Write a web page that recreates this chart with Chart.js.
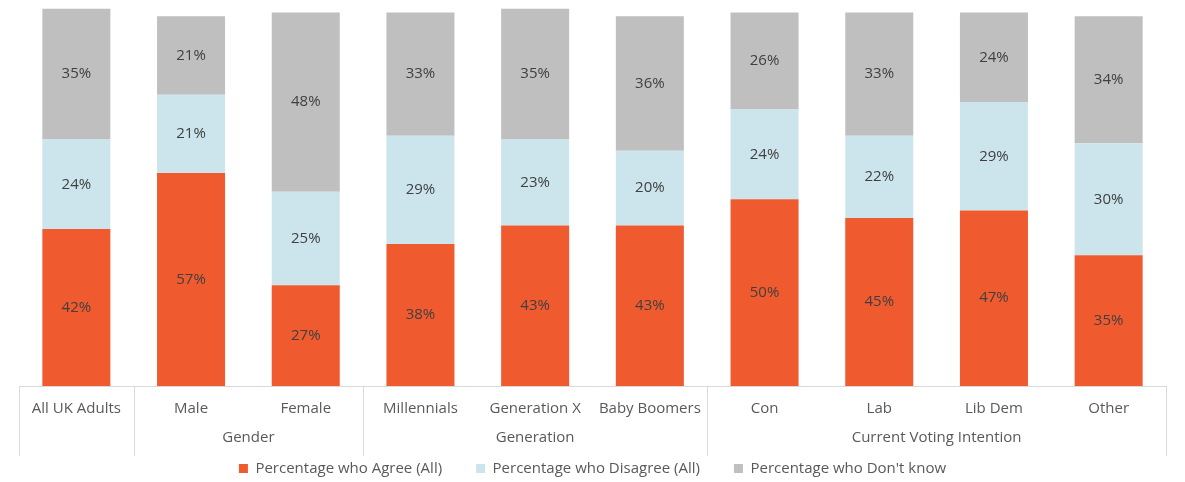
<!DOCTYPE html>
<html>
<head>
<meta charset="utf-8">
<script src="https://cdn.jsdelivr.net/npm/chart.js@4/dist/chart.umd.min.js"></script>
<style>
  html, body { margin: 0; padding: 0; background: #fff; }
  #wrap { width: 1185px; height: 482px; position: relative; }
</style>
</head>
<body>
<div id="wrap"><canvas id="chart"></canvas></div>
<script>
const categories = ["All UK Adults", "Male", "Female", "Millennials", "Generation X", "Baby Boomers", "Con", "Lab", "Lib Dem", "Other"];
const agree = [42, 57, 27, 38, 43, 43, 50, 45, 47, 35];
const disagree = [24, 21, 25, 29, 23, 20, 24, 22, 29, 30];
const dontKnow = [35, 21, 48, 33, 35, 36, 26, 33, 24, 34];

// groups: [label, first index, last index]
const groups = [
  ["", 0, 0],
  ["Gender", 1, 2],
  ["Generation", 3, 5],
  ["Current Voting Intention", 6, 9]
];

const FONT = "'Open Sans', 'Noto Sans', sans-serif";
const textCol = "#595959";
const lineCol = "#d9d9d9";

/* ===== value labels inside segments ===== */
const valueLabels = {
  id: "valueLabels",
  afterDatasetsDraw(chart) {
    const ctx = chart.ctx;
    ctx.save();
    ctx.font = "15px " + FONT;
    ctx.fillStyle = "#404040";
    ctx.textAlign = "center";
    ctx.textBaseline = "middle";
    chart.data.datasets.forEach((ds, i) => {
      chart.getDatasetMeta(i).data.forEach((bar, j) => {
        const mid = (bar.y + bar.base) / 2;
        ctx.fillText(ds.data[j] + "%", bar.x, mid);
      });
    });
    ctx.restore();
  }
};

/* ===== group labels + separators ===== */
const groupAxis = {
  id: "groupAxis",
  afterInit(chart) {
    // keep the legend band short so the axis sits low like the original
    const fit = chart.legend.fit;
    chart.legend.fit = function () {
      fit.call(this);
      this.height = 55;
    };
  },
  afterDraw(chart) {
    const ctx = chart.ctx;
    const x = chart.scales.x;
    const area = chart.chartArea;
    const half = (x.getPixelForValue(1) - x.getPixelForValue(0)) / 2;
    const bottom = area.bottom + 70;
    ctx.save();
    ctx.strokeStyle = lineCol;
    ctx.lineWidth = 1;
    ctx.beginPath();
    ctx.moveTo(area.left, area.bottom + 0.5);
    ctx.lineTo(area.right, area.bottom + 0.5);
    groups.forEach(g => {
      const l = Math.round(x.getPixelForValue(g[1]) - half) + 0.5;
      ctx.moveTo(l, area.bottom);
      ctx.lineTo(l, bottom);
    });
    const r = Math.round(x.getPixelForValue(categories.length - 1) + half) + 0.5;
    ctx.moveTo(r, area.bottom);
    ctx.lineTo(r, bottom);
    ctx.stroke();

    ctx.font = "15px " + FONT;
    ctx.fillStyle = textCol;
    ctx.textAlign = "center";
    ctx.textBaseline = "middle";
    groups.forEach(g => {
      if (!g[0]) return;
      const cx = (x.getPixelForValue(g[1]) + x.getPixelForValue(g[2])) / 2;
      ctx.fillText(g[0], cx, area.bottom + 52);
    });
    ctx.restore();
  }
};

new Chart(document.getElementById("chart"), {
  type: "bar",
  data: {
    labels: categories,
    datasets: [
      { label: "Percentage who Agree (All)", data: agree, backgroundColor: "#f05a2f" },
      { label: "Percentage who Disagree (All)", data: disagree, backgroundColor: "#cce5ec" },
      { label: "Percentage who Don't know", data: dontKnow, backgroundColor: "#bfbfbf" }
    ]
  },
  options: {
    responsive: true,
    maintainAspectRatio: false,
    animation: false,
    layout: { padding: { left: 19, right: 19, top: 5, bottom: 0 } },
    scales: {
      x: {
        stacked: true,
        grid: { display: false, drawTicks: false },
        border: { display: false },
        ticks: { color: textCol, font: { family: FONT, size: 15 }, padding: 14, maxRotation: 0 },
        afterFit(scale) { scale.height = 41; }
      },
      y: {
        stacked: true,
        display: false,
        min: 0,
        max: 102
      }
    },
    datasets: { bar: { categoryPercentage: 0.593, barPercentage: 1 } },
    plugins: {
      legend: {
        position: "bottom",
        labels: {
          color: textCol,
          font: { family: FONT, size: 15 },
          boxWidth: 9,
          boxHeight: 9,
          padding: 34
        }
      },
      tooltip: { enabled: false }
    }
  },
  plugins: [valueLabels, groupAxis]
});
</script>
</body>
</html>
